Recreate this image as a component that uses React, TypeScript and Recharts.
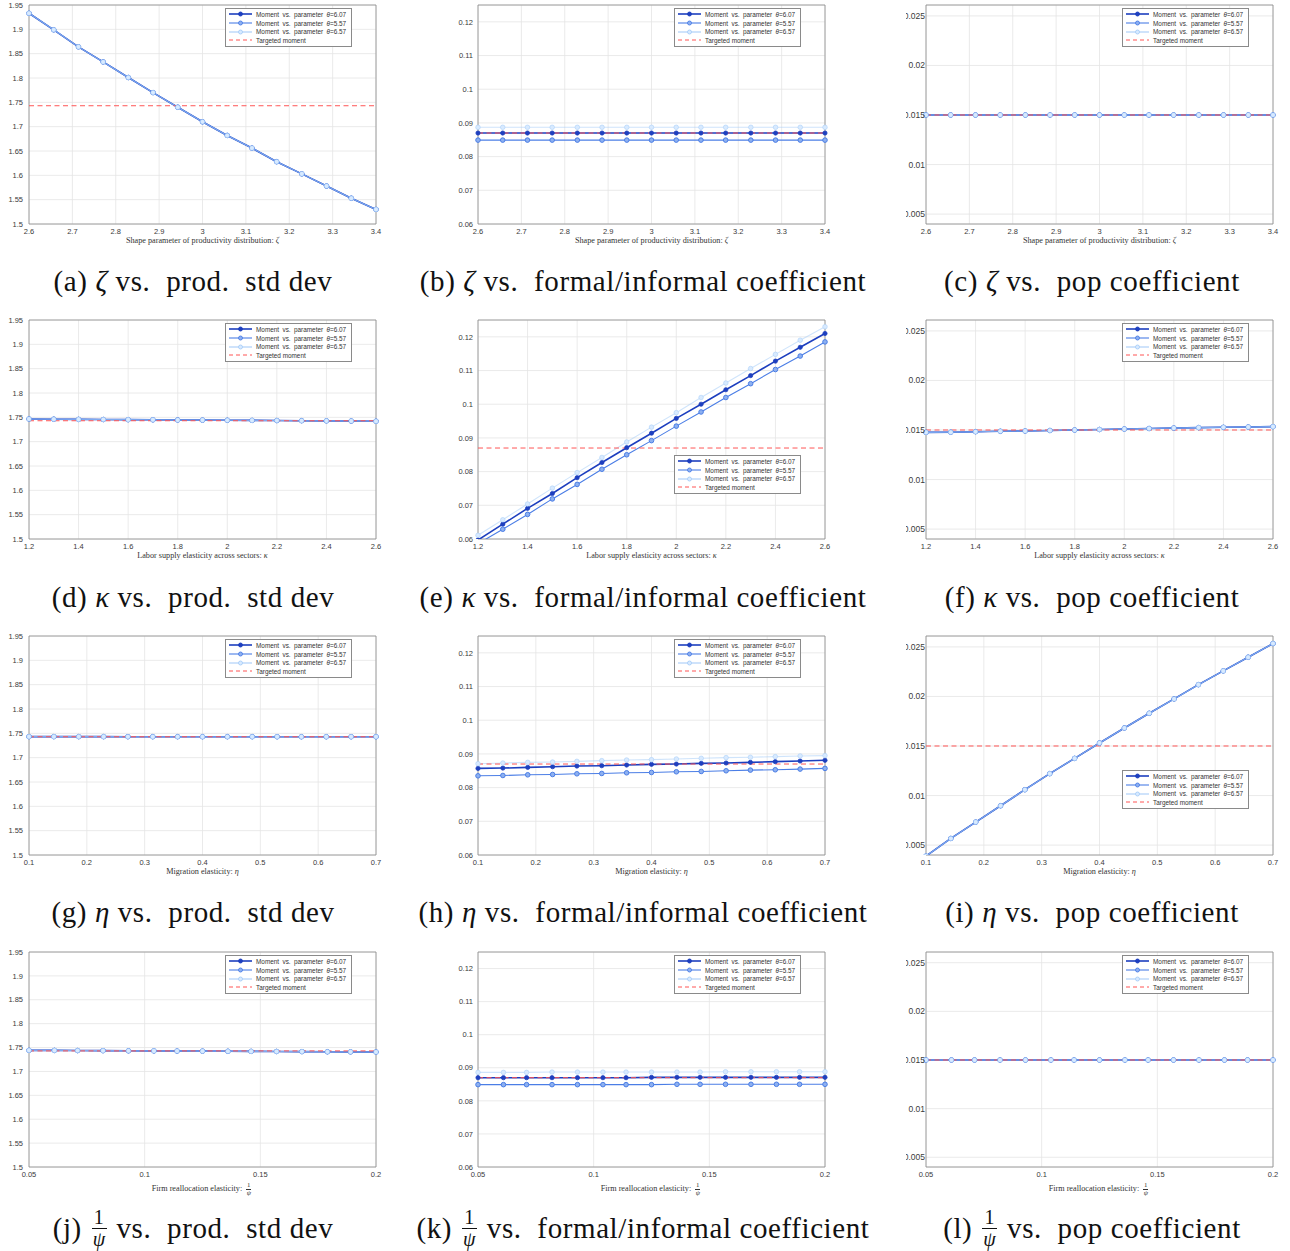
import React from "react";
import { CartesianGrid, Legend, Line, LineChart, ReferenceArea, XAxis, YAxis } from "recharts";

// parameter grids (x values of the 15 simulated points)
const zetaX = [2.6, 2.657, 2.714, 2.771, 2.829, 2.886, 2.943, 3.0, 3.057, 3.114, 3.171, 3.229, 3.286, 3.343, 3.4];
const kappaX = [1.2, 1.3, 1.4, 1.5, 1.6, 1.7, 1.8, 1.9, 2.0, 2.1, 2.2, 2.3, 2.4, 2.5, 2.6];
const etaX = [0.1, 0.143, 0.186, 0.229, 0.271, 0.314, 0.357, 0.4, 0.443, 0.486, 0.529, 0.571, 0.614, 0.657, 0.7];
const psiX = [0.05, 0.061, 0.071, 0.082, 0.093, 0.104, 0.114, 0.125, 0.136, 0.146, 0.157, 0.168, 0.179, 0.189, 0.2];

// targeted moments
const targetStd = 1.743;
const targetFi = 0.087;
const targetPop = 0.015;

// zeta
const zetaStd = [1.933, 1.899, 1.864, 1.833, 1.801, 1.77, 1.74, 1.71, 1.682, 1.656, 1.628, 1.603, 1.578, 1.553, 1.53];
const zetaFi607 = [0.087, 0.087, 0.087, 0.087, 0.087, 0.087, 0.087, 0.087, 0.087, 0.087, 0.087, 0.087, 0.087, 0.087, 0.087];
const zetaFi557 = [0.0849, 0.0849, 0.0849, 0.0849, 0.0849, 0.0849, 0.0849, 0.0849, 0.0849, 0.0849, 0.0849, 0.0849, 0.0849, 0.0849, 0.0849];
const zetaFi657 = [0.0887, 0.0887, 0.0887, 0.0887, 0.0887, 0.0887, 0.0887, 0.0887, 0.0887, 0.0887, 0.0887, 0.0887, 0.0887, 0.0887, 0.0887];
const zetaPop = [0.015, 0.015, 0.015, 0.015, 0.015, 0.015, 0.015, 0.015, 0.015, 0.015, 0.015, 0.015, 0.015, 0.015, 0.015];

// kappa
const kappaStd = [1.7466, 1.7462, 1.7458, 1.7455, 1.7452, 1.7449, 1.7446, 1.7443, 1.744, 1.7437, 1.7434, 1.7431, 1.7428, 1.7424, 1.742];
const kappaFi607 = [0.0597, 0.0644, 0.0691, 0.0735, 0.0782, 0.0827, 0.0871, 0.0914, 0.0958, 0.1, 0.1043, 0.1085, 0.1128, 0.1169, 0.121];
const kappaFi557 = [0.0586, 0.0629, 0.0673, 0.0719, 0.0762, 0.0807, 0.085, 0.0892, 0.0935, 0.0977, 0.102, 0.1061, 0.1103, 0.1143, 0.1185];
const kappaFi657 = [0.0611, 0.0657, 0.0704, 0.0751, 0.0797, 0.0842, 0.0888, 0.0932, 0.0975, 0.102, 0.1063, 0.1106, 0.1148, 0.119, 0.123];
const kappaPop = [0.01476, 0.01478, 0.01483, 0.01487, 0.0149, 0.01495, 0.015, 0.01505, 0.0151, 0.01515, 0.0152, 0.01524, 0.01527, 0.0153, 0.01534];

// eta
const etaStd = [1.7432, 1.7432, 1.7432, 1.7432, 1.7431, 1.7431, 1.7431, 1.7431, 1.7431, 1.7431, 1.743, 1.743, 1.743, 1.743, 1.743];
const etaFi607 = [0.0857, 0.0858, 0.086, 0.0862, 0.0864, 0.0865, 0.0867, 0.0869, 0.087, 0.0872, 0.0873, 0.0875, 0.0877, 0.0879, 0.0881];
const etaFi557 = [0.0835, 0.0836, 0.0838, 0.0839, 0.0841, 0.0842, 0.0844, 0.0845, 0.0847, 0.0848, 0.085, 0.0852, 0.0853, 0.0855, 0.0857];
const etaFi657 = [0.0871, 0.0873, 0.0875, 0.0876, 0.0878, 0.088, 0.0882, 0.0883, 0.0885, 0.0887, 0.0889, 0.089, 0.0892, 0.0894, 0.0895];
const etaPop = [0.00389, 0.00567, 0.00732, 0.00897, 0.01059, 0.01221, 0.01375, 0.0153, 0.01682, 0.0183, 0.01975, 0.02119, 0.02258, 0.02396, 0.02534];

// 1/psi
const psiStd = [1.7442, 1.744, 1.7437, 1.7435, 1.7432, 1.743, 1.7427, 1.7425, 1.7422, 1.742, 1.7418, 1.7415, 1.7412, 1.741, 1.7407];
const psiFi607 = [0.087, 0.087, 0.087, 0.087, 0.087, 0.087, 0.087, 0.0871, 0.0871, 0.0871, 0.0871, 0.0871, 0.0871, 0.0871, 0.0871];
const psiFi557 = [0.0849, 0.0849, 0.0849, 0.0849, 0.0849, 0.0849, 0.0849, 0.0849, 0.085, 0.085, 0.085, 0.085, 0.085, 0.085, 0.085];
const psiFi657 = [0.0886, 0.0886, 0.0886, 0.0887, 0.0887, 0.0887, 0.0887, 0.0887, 0.0887, 0.0887, 0.0888, 0.0888, 0.0888, 0.0888, 0.0888];
const psiPop = [0.015, 0.015, 0.015, 0.015, 0.015, 0.015, 0.015, 0.015, 0.015, 0.015, 0.015, 0.015, 0.015, 0.015, 0.015];

// ticks
const zetaTicks = [2.6, 2.7, 2.8, 2.9, 3, 3.1, 3.2, 3.3, 3.4];
const kappaTicks = [1.2, 1.4, 1.6, 1.8, 2, 2.2, 2.4, 2.6];
const etaTicks = [0.1, 0.2, 0.3, 0.4, 0.5, 0.6, 0.7];
const psiTicks = [0.05, 0.1, 0.15, 0.2];
const stdTicks = [1.5, 1.55, 1.6, 1.65, 1.7, 1.75, 1.8, 1.85, 1.9, 1.95];
const fiTicks = [0.06, 0.07, 0.08, 0.09, 0.1, 0.11, 0.12];
const popTicks = [0.005, 0.01, 0.015, 0.02, 0.025];

const legendLabels = ["6.07", "5.57", "6.57"];

const DARK = "#1d3fbf";
const MID = "#4b7ee6";
const LIGHT = "#a8cdf8";
const RED = "#ff5555";

const PLOT_W = 347;
const YW = 40;
const colLeft = [29, 478, 926];
const rowTop = [5, 320, 636, 952];
const rowH = [219, 219, 219, 215];
const tickGap = [6, 5, 1];
const yTickSize = [7.5, 7.5, 8.5];

const fmt = (v: number) => String(+v.toFixed(4));
const SANS = "Liberation Sans, Arial, sans-serif";
const SERIF = "Liberation Serif, Times New Roman, serif";

function Sample({ kind }: { kind: number }) {
  if (kind === 3) {
    return (
      <svg width={25} height={8}>
        <line x1={1} y1={4} x2={24} y2={4} stroke={RED} strokeWidth={1} strokeDasharray="4 3" />
      </svg>
    );
  }
  const stroke = [DARK, MID, LIGHT][kind];
  return (
    <svg width={25} height={8}>
      <line x1={1} y1={4} x2={24} y2={4} stroke={stroke} strokeWidth={kind === 0 ? 1.6 : 1.1} />
      <circle cx={12.5} cy={4} r={2} fill={kind === 0 ? DARK : kind === 1 ? "#8db0f0" : "#d8eaff"} stroke={stroke} strokeWidth={0.9} />
    </svg>
  );
}

function LegendBox() {
  return (
    <div
      style={{
        border: "1px solid #8a8a8a",
        background: "#fff",
        padding: "1px 2px 1px 2px",
        fontFamily: SANS,
        fontSize: 6.4,
        color: "#333",
        width: 121,
      }}
    >
      {legendLabels.map((t, i) => (
        <div key={t + i} style={{ display: "flex", alignItems: "center", height: 8.7 }}>
          <Sample kind={i} />
          <span style={{ marginLeft: 3, wordSpacing: 1.6, whiteSpace: "nowrap" }}>
            Moment vs. parameter <i>θ</i>={t}
          </span>
        </div>
      ))}
      <div style={{ display: "flex", alignItems: "center", height: 8.7 }}>
        <Sample kind={3} />
        <span style={{ marginLeft: 3 }}>Targeted moment</span>
      </div>
    </div>
  );
}

type PanelProps = {
  row: number;
  col: number;
  xs: number[];
  s607: number[];
  s557: number[];
  s657: number[];
  target: number;
  xTicks: number[];
  yTicks: number[];
  yDomain: [number, number];
  legendDy: number;
  xLabel: React.ReactNode;
};

function Panel({ row, col, xs, s607, s557, s657, target, xTicks, yTicks, yDomain, legendDy, xLabel }: PanelProps) {
  const plotH = rowH[row];
  const data = xs.map((x, i) => ({ x, a: s607[i], b: s557[i], c: s657[i], t: target }));
  const xDomain: [number, number] = [xs[0], xs[xs.length - 1]];
  const left = colLeft[col] - YW;
  const top = rowTop[row] - 4;
  return (
    <>
      <div
        style={{
          position: "absolute",
          left,
          top,
          clipPath: col === 2 ? "inset(0 0 0 20px)" : undefined,
        }}
      >
        <LineChart width={YW + PLOT_W + 6} height={4 + plotH + 16} data={data} margin={{ top: 4, right: 6, left: 0, bottom: 0 }}>
          <CartesianGrid stroke="#e4e4e4" strokeWidth={0.8} />
          <XAxis
            type="number"
            dataKey="x"
            domain={xDomain}
            ticks={xTicks}
            tickFormatter={fmt}
            height={16}
            axisLine={false}
            tickLine={false}
            tickSize={0}
            tickMargin={5}
            tick={{ fontSize: 7.5, fill: "#3a3a3a", fontFamily: SANS }}
            interval={0}
          />
          <YAxis
            type="number"
            domain={yDomain}
            ticks={yTicks}
            tickFormatter={fmt}
            width={YW}
            axisLine={false}
            tickLine={false}
            tickSize={0}
            tickMargin={tickGap[col]}
            tick={{ fontSize: yTickSize[col], fill: "#3a3a3a", fontFamily: SANS }}
            interval={0}
            allowDataOverflow
          />
          <ReferenceArea x1={xDomain[0]} x2={xDomain[1]} y1={yDomain[0]} y2={yDomain[1]} fill="none" stroke="#8c8c8c" strokeWidth={0.8} />
          <Line
            dataKey="a"
            stroke={DARK}
            strokeWidth={1.6}
            dot={{ r: 2.1, fill: DARK, stroke: DARK, strokeWidth: 0.8 }}
            isAnimationActive={false}
          />
          <Line
            dataKey="b"
            stroke={MID}
            strokeWidth={1.1}
            dot={{ r: 2.3, fill: "#8db0f0", stroke: MID, strokeWidth: 1 }}
            isAnimationActive={false}
          />
          <Line
            dataKey="c"
            stroke={LIGHT}
            strokeOpacity={0.55}
            strokeWidth={1.1}
            dot={{ r: 2.3, fill: "#d8eaff", stroke: LIGHT, strokeWidth: 1 }}
            isAnimationActive={false}
          />
          <Line dataKey="t" stroke={RED} strokeWidth={1} strokeDasharray="5 3.5" dot={false} isAnimationActive={false} />
          <Legend
            layout="horizontal"
            verticalAlign="middle"
            align="center"
            content={() => <LegendBox />}
            wrapperStyle={{ left: YW + 196, top: 4 + legendDy, width: 127, height: 38 }}
          />
        </LineChart>
      </div>
      <div
        style={{
          position: "absolute",
          left: colLeft[col],
          width: PLOT_W,
          top: rowTop[row] + plotH + (row === 3 ? 15 : 12),
          textAlign: "center",
          fontFamily: SERIF,
          fontSize: 8.2,
          color: "#333",
        }}
      >
        {xLabel}
      </div>
    </>
  );
}

function Frac({ size }: { size: number }) {
  return (
    <span style={{ display: "inline-flex", flexDirection: "column", alignItems: "center", verticalAlign: "middle", lineHeight: 1, margin: "0 2px" }}>
      <span style={{ fontSize: size, paddingBottom: size * 0.08 }}>1</span>
      <span style={{ borderTop: `${Math.max(0.6, size / 16)}px solid currentColor`, width: size * 0.75 }} />
      <span style={{ fontSize: size, fontStyle: "italic" }}>ψ</span>
    </span>
  );
}

const zetaLabel = <>Shape parameter of productivity distribution: <i>ζ</i></>;
const kappaLabel = <>Labor supply elasticity across sectors: <i>κ</i></>;
const etaLabel = <>Migration elasticity: <i>η</i></>;
const psiLabel = (
  <span>
    Firm reallocation elasticity: <Frac size={6.8} />
  </span>
);

const colCenter = [193, 643, 1092];
const capCenter = [281, 597, 912, 1228];

function Caption({ row, col, children }: { row: number; col: number; children: React.ReactNode }) {
  return (
    <div
      style={{
        position: "absolute",
        left: colCenter[col] - 250,
        width: 500,
        top: capCenter[row] - 19,
        height: 38,
        display: "flex",
        alignItems: "center",
        justifyContent: "center",
        fontFamily: SERIF,
        fontSize: 29,
        letterSpacing: 0.6,
        color: "#111",
        whiteSpace: "pre",
      }}
    >
      {children}
    </div>
  );
}

export default function App() {
  const std = { yTicks: stdTicks, yDomain: [1.5, 1.95] as [number, number], target: targetStd };
  const fi = { yTicks: fiTicks, yDomain: [0.06, 0.125] as [number, number], target: targetFi };
  const pop = { yTicks: popTicks, yDomain: [0.004, 0.0261] as [number, number], target: targetPop };
  return (
    <div style={{ position: "absolute", left: 0, top: 0, width: 1290, height: 1251, background: "#fff", overflow: "hidden" }}>
      {/* zeta */}
      <Panel row={0} col={0} xs={zetaX} s607={zetaStd} s557={zetaStd} s657={zetaStd} xTicks={zetaTicks} legendDy={3} xLabel={zetaLabel} {...std} />
      <Panel row={0} col={1} xs={zetaX} s607={zetaFi607} s557={zetaFi557} s657={zetaFi657} xTicks={zetaTicks} legendDy={3} xLabel={zetaLabel} {...fi} />
      <Panel row={0} col={2} xs={zetaX} s607={zetaPop} s557={zetaPop} s657={zetaPop} xTicks={zetaTicks} legendDy={3} xLabel={zetaLabel} {...pop} />
      {/* kappa */}
      <Panel row={1} col={0} xs={kappaX} s607={kappaStd} s557={kappaStd} s657={kappaStd} xTicks={kappaTicks} legendDy={3} xLabel={kappaLabel} {...std} />
      <Panel row={1} col={1} xs={kappaX} s607={kappaFi607} s557={kappaFi557} s657={kappaFi657} xTicks={kappaTicks} legendDy={135} xLabel={kappaLabel} {...fi} />
      <Panel row={1} col={2} xs={kappaX} s607={kappaPop} s557={kappaPop} s657={kappaPop} xTicks={kappaTicks} legendDy={3} xLabel={kappaLabel} {...pop} />
      {/* eta */}
      <Panel row={2} col={0} xs={etaX} s607={etaStd} s557={etaStd} s657={etaStd} xTicks={etaTicks} legendDy={3} xLabel={etaLabel} {...std} />
      <Panel row={2} col={1} xs={etaX} s607={etaFi607} s557={etaFi557} s657={etaFi657} xTicks={etaTicks} legendDy={3} xLabel={etaLabel} {...fi} />
      <Panel row={2} col={2} xs={etaX} s607={etaPop} s557={etaPop} s657={etaPop} xTicks={etaTicks} legendDy={134} xLabel={etaLabel} {...pop} />
      {/* 1/psi */}
      <Panel row={3} col={0} xs={psiX} s607={psiStd} s557={psiStd} s657={psiStd} xTicks={psiTicks} legendDy={3} xLabel={psiLabel} {...std} />
      <Panel row={3} col={1} xs={psiX} s607={psiFi607} s557={psiFi557} s657={psiFi657} xTicks={psiTicks} legendDy={3} xLabel={psiLabel} {...fi} />
      <Panel row={3} col={2} xs={psiX} s607={psiPop} s557={psiPop} s657={psiPop} xTicks={psiTicks} legendDy={3} xLabel={psiLabel} {...pop} />

      <Caption row={0} col={0}>(a) <i>ζ</i> vs.  prod.  std dev</Caption>
      <Caption row={0} col={1}>(b) <i>ζ</i> vs.  formal/informal coefficient</Caption>
      <Caption row={0} col={2}>(c) <i>ζ</i> vs.  pop coefficient</Caption>
      <Caption row={1} col={0}>(d) <i>κ</i> vs.  prod.  std dev</Caption>
      <Caption row={1} col={1}>(e) <i>κ</i> vs.  formal/informal coefficient</Caption>
      <Caption row={1} col={2}>(f) <i>κ</i> vs.  pop coefficient</Caption>
      <Caption row={2} col={0}>(g) <i>η</i> vs.  prod.  std dev</Caption>
      <Caption row={2} col={1}>(h) <i>η</i> vs.  formal/informal coefficient</Caption>
      <Caption row={2} col={2}>(i) <i>η</i> vs.  pop coefficient</Caption>
      <Caption row={3} col={0}>(j) <Frac size={20} /> vs.  prod.  std dev</Caption>
      <Caption row={3} col={1}>(k) <Frac size={20} /> vs.  formal/informal coefficient</Caption>
      <Caption row={3} col={2}>(l) <Frac size={20} /> vs.  pop coefficient</Caption>
    </div>
  );
}
